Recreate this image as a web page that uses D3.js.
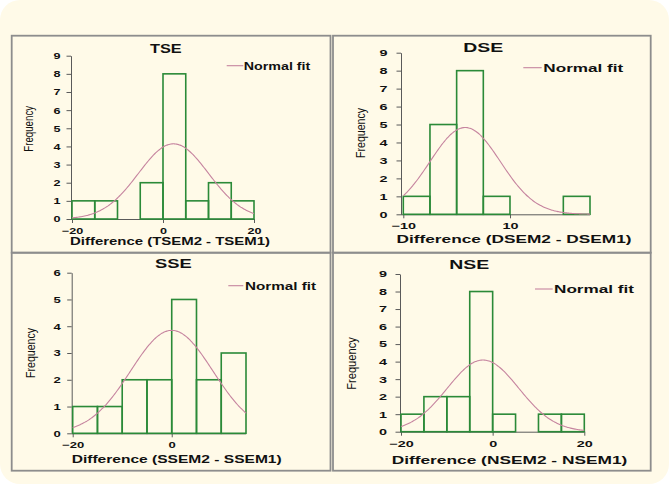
<!DOCTYPE html>
<html><head><meta charset="utf-8">
<script src="https://cdn.jsdelivr.net/npm/d3@7"></script>
<style>body{margin:0;background:#fff}svg{display:block}</style>
</head><body><svg id="c" width="669" height="484"></svg>
<script>
// ---------- DATA ----------
const binWidth = 5;
const panelTitles = ["TSE", "DSE", "SSE", "NSE"];
const xAxisLabels = ["Difference (TSEM2 - TSEM1)", "Difference (DSEM2 - DSEM1)",
                     "Difference (SSEM2 - SSEM1)", "Difference (NSEM2 - NSEM1)"];
const yAxisLabel = "Frequency";
const legendLabel = "Normal fit";

const tseBinStarts = [-20, -15, -10, -5, 0, 5, 10, 15];
const tseCounts    = [1, 1, 0, 2, 8, 1, 2, 1];
const dseBinStarts = [-10, -5, 0, 5, 10, 15, 20];
const dseCounts    = [1, 5, 8, 1, 0, 0, 1];
const sseBinStarts = [-20, -15, -10, -5, 0, 5, 10];
const sseCounts    = [1, 1, 2, 2, 5, 2, 3];
const nseBinStarts = [-20, -15, -10, -5, 0, 5, 10, 15];
const nseCounts    = [1, 2, 2, 8, 1, 0, 1, 1];

const fitMeans = [2.3, 1.6, 0.0, -2.1];
const fitSDs   = [7.7, 6.6, 8.3, 7.8];

const xDomains = [[-20, 20], [-10, 25], [-20, 15], [-20, 20]];
const yMaxes   = [9, 9, 6, 9];
const xTickValues = [[-20, 0, 20], [-10, 10], [-20, 0], [-20, 0, 20]];

// ---------- LAYOUT ----------
const layouts = [
  { box:[11.7,35.7,330.5,252.7], xr:[72,254], yr:[219,55.7], yAxisX:71, sx:1.4, yPad:6,
    title:{x:165.8,y:53.3,len:31.7}, leg:{x1:226.7,x2:243.3,y:65.7,tx:243.8,ty:69.5,len:66.5},
    xlab:{x:170,y:244.5,len:200}, ylab:{x:32.5,y:128.8,len:45.7} },
  { box:[333,35.7,650.7,252.7], xr:[403.3,590], yr:[214.3,52.7], yAxisX:401, sx:1.6, yPad:9,
    title:{x:483.3,y:51.7,len:40}, leg:{x1:523.3,x2:541.7,y:67.7,tx:543.3,ty:71.7,len:80},
    xlab:{x:514,y:243.3,len:235}, ylab:{x:364.5,y:133,len:50} },
  { box:[11.7,252.7,330.5,470.7], xr:[72.7,246], yr:[433.3,272.7], yAxisX:71.7, sx:1.45, yPad:6.5,
    title:{x:173.3,y:268.3,len:36.7}, leg:{x1:228.3,x2:243.3,y:285.7,tx:245,ty:290,len:71},
    xlab:{x:176.7,y:463.3,len:210}, ylab:{x:34.5,y:353,len:50} },
  { box:[333,252.7,650.7,470.7], xr:[401,584.3], yr:[431.7,274], yAxisX:400, sx:1.6, yPad:8.5,
    title:{x:469.3,y:269,len:40}, leg:{x1:535,x2:552.7,y:289,tx:554,ty:292.7,len:80},
    xlab:{x:509.5,y:464.3,len:235.7}, ylab:{x:356,y:363.5,len:52.7} }
];

const binStarts = [tseBinStarts, dseBinStarts, sseBinStarts, nseBinStarts];
const counts = [tseCounts, dseCounts, sseCounts, nseCounts];

const FONT = "'Liberation Sans', Arial, sans-serif";
const TXT = "#111111";
const BAR = "#2b8a38";
const FIT = "#c6849f";
const AXIS = "#5a5a5a";

const svg = d3.select("#c");
svg.append("rect").attr("width",669).attr("height",484).attr("fill","#ffffff");
svg.append("rect").attr("x",0).attr("y",0).attr("width",669).attr("height",484)
   .attr("rx",20).attr("fill","#fffae8");

function stretch(sel, sx){
  sel.each(function(){
    const l = this.getComputedTextLength();
    d3.select(this).attr("textLength", l*sx).attr("lengthAdjust","spacingAndGlyphs");
  });
}

layouts.forEach((L, i) => {
  const g = svg.append("g");
  g.append("rect").attr("x",L.box[0]).attr("y",L.box[1])
    .attr("width",L.box[2]-L.box[0]).attr("height",L.box[3]-L.box[1])
    .attr("fill","none").attr("stroke","#8d8d8d").attr("stroke-width",1.8);

  const x = d3.scaleLinear().domain(xDomains[i]).range(L.xr);
  const y = d3.scaleLinear().domain([0, yMaxes[i]]).range(L.yr);

  const ya = g.append("g").attr("transform",`translate(${L.yAxisX},0)`)
    .call(d3.axisLeft(y).tickValues(d3.range(0, yMaxes[i]+1)).tickFormat(d3.format("d"))
      .tickSize(4.5).tickSizeOuter(0).tickPadding(L.yPad));
  ya.selectAll("path,line").attr("stroke",AXIS).attr("stroke-width",1);
  ya.selectAll("text").attr("font-family",FONT).attr("font-weight","bold")
    .attr("font-size",9).attr("fill",TXT).call(stretch, L.sx);

  const xa = g.append("g").attr("transform",`translate(0,${L.yr[0]})`)
    .call(d3.axisBottom(x).tickValues(xTickValues[i]).tickFormat(d3.format("d"))
      .tickSize(4).tickSizeOuter(0).tickPadding(4.5));
  xa.select("path").attr("d",`M${L.yAxisX},0.5H${L.xr[1]}`);
  xa.selectAll("path,line").attr("stroke",AXIS).attr("stroke-width",1);
  xa.selectAll("text").attr("font-family",FONT).attr("font-weight","bold")
    .attr("font-size",9).attr("fill",TXT).call(stretch, L.sx);

  g.append("g").selectAll("rect").data(binStarts[i].map((s,k)=>({s, c:counts[i][k]})))
    .join("rect")
    .attr("x", d => x(d.s)).attr("width", d => x(d.s + binWidth) - x(d.s))
    .attr("y", d => y(d.c)).attr("height", d => y(0) - y(d.c))
    .attr("fill","none").attr("stroke",BAR).attr("stroke-width",1.6);

  const n = d3.sum(counts[i]);
  const mu = fitMeans[i], sd = fitSDs[i];
  const pts = d3.range(xDomains[i][0], xDomains[i][1] + 0.001, 0.25);
  const fit = v => n * binWidth / (sd * Math.sqrt(2*Math.PI)) * Math.exp(-0.5*((v-mu)/sd)**2);
  g.append("path").datum(pts)
    .attr("d", d3.line().x(v => x(v)).y(v => y(fit(v))).curve(d3.curveBasis))
    .attr("fill","none").attr("stroke",FIT).attr("stroke-width",1.1);

  g.append("text").attr("x",L.title.x).attr("y",L.title.y).attr("text-anchor","middle")
    .attr("font-family",FONT).attr("font-weight","bold").attr("font-size",12).attr("fill",TXT)
    .attr("textLength",L.title.len).attr("lengthAdjust","spacingAndGlyphs")
    .text(panelTitles[i]);

  g.append("line").attr("x1",L.leg.x1).attr("x2",L.leg.x2).attr("y1",L.leg.y).attr("y2",L.leg.y)
    .attr("stroke",FIT).attr("stroke-width",1.1);
  g.append("text").attr("x",L.leg.tx).attr("y",L.leg.ty)
    .attr("font-family",FONT).attr("font-weight","bold").attr("font-size",10.5).attr("fill",TXT)
    .attr("textLength",L.leg.len).attr("lengthAdjust","spacingAndGlyphs")
    .text(legendLabel);

  g.append("text").attr("x",L.xlab.x).attr("y",L.xlab.y).attr("text-anchor","middle")
    .attr("font-family",FONT).attr("font-weight","bold").attr("font-size",10.5).attr("fill",TXT)
    .attr("textLength",L.xlab.len).attr("lengthAdjust","spacingAndGlyphs")
    .text(xAxisLabels[i]);

  g.append("text").attr("transform",`translate(${L.ylab.x},${L.ylab.y}) scale(1.2,1) rotate(-90)`)
    .attr("text-anchor","middle")
    .attr("font-family",FONT).attr("font-size",10.5).attr("fill",TXT)
    .attr("textLength",L.ylab.len).attr("lengthAdjust","spacingAndGlyphs")
    .text(yAxisLabel);
});
</script></body></html>
